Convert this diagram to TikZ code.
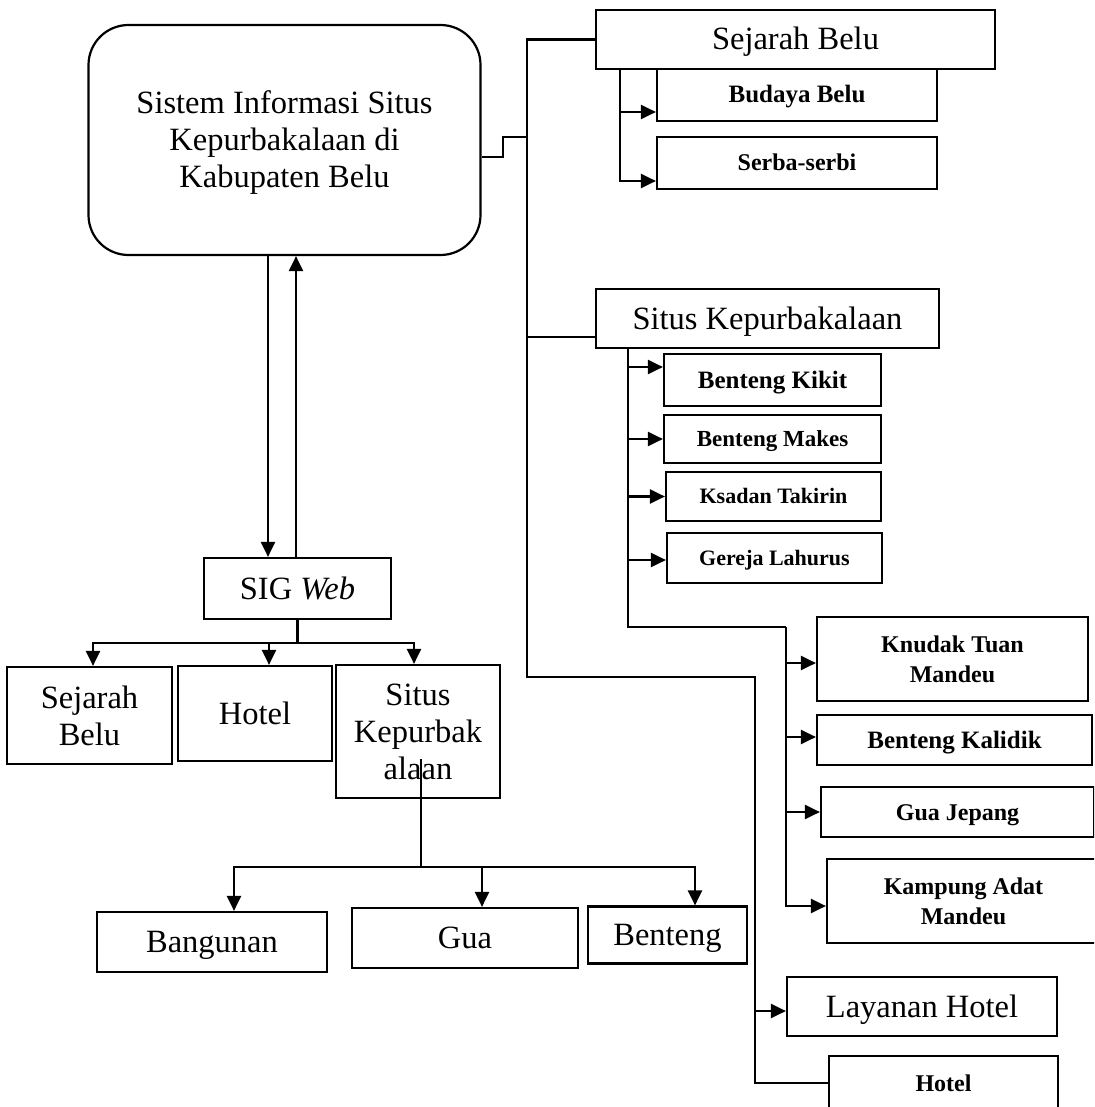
\documentclass[tikz,border=0pt]{standalone}
\usepackage{fontspec}
\setmainfont{Liberation Serif}
\usetikzlibrary{arrows.meta}
\tikzset{
  line/.style={line width=2.2pt},
  arr/.style={line, -{Triangle[length=15pt,width=14pt]}},
  box/.style={draw, rectangle, line width=2.2pt, inner sep=0pt, align=center},
  one/.style={text height=#1, text depth=0pt},
  big/.style={font=\fontsize{32.5}{37}\selectfont},
  sm/.style={font=\fontsize{#1}{30}\selectfont\bfseries},
}
\begin{document}
\begin{tikzpicture}[x=1pt,y=-1pt]
\useasboundingbox (0,0) rectangle (1094,1107);
\clip (0,0) rectangle (1094,1107);
\fill[white] (0,0) rectangle (1094,1107);

% central system box
\node[box, big, rounded corners=40pt, text depth=1pt, minimum width=392pt, minimum height=230pt] (sis) at (284.5,140)
  {Sistem Informasi Situs\\Kepurbakalaan di\\Kabupaten Belu};

% right-hand menu
\node[box,big,one=21pt, minimum width=399pt, minimum height=59pt] (sjr) at (795.5,39.5) {Sejarah Belu};
\node[box,sm=25,one=16pt, minimum width=280pt, minimum height=52pt] (bud) at (797,95) {Budaya Belu};
\node[box,sm=24,one=16pt, minimum width=280pt, minimum height=52pt] (ser) at (797,163) {Serba-serbi};
\node[box,big,one=21pt, minimum width=343pt, minimum height=59pt] (skp) at (767.5,318.5) {Situs Kepurbakalaan};
\node[box,sm=25,one=16pt, minimum width=217pt, minimum height=52pt] (kik) at (772.5,380) {Benteng Kikit};
\node[box,sm=23,one=15pt, minimum width=217pt, minimum height=48pt] (mak) at (772.5,439) {Benteng Makes};
\node[box,sm=22,one=14.5pt, minimum width=215pt, minimum height=49pt] (ksa) at (773.5,496.5) {Ksadan Takirin};
\node[box,sm=22,one=14.5pt, minimum width=215pt, minimum height=50pt] (ger) at (774.5,558) {Gereja Lahurus};
\node[box,sm=24, minimum width=271pt, minimum height=84pt] (knu) at (952.5,659) {Knudak Tuan\\Mandeu};
\node[box,sm=25,one=16pt, minimum width=275pt, minimum height=50pt] (kal) at (954.5,740) {Benteng Kalidik};
\node[box,sm=24,one=16pt, minimum width=273pt, minimum height=50pt] (gua) at (957.5,812) {Gua Jepang};
\node[box,sm=24, minimum width=273pt, minimum height=84pt] (kam) at (963.5,901) {Kampung Adat\\Mandeu};
\node[box,big,one=21pt, minimum width=270pt, minimum height=59pt] (lay) at (922,1006.5) {Layanan Hotel};
\node[box,sm=24,one=16pt, minimum width=229pt, minimum height=54pt] (hor) at (943.5,1083) {Hotel};

% left-hand tree
\node[box,big,one=21pt, minimum width=187pt, minimum height=61pt] (sig) at (297.5,588.5) {SIG \textit{Web}};
\node[box,big, minimum width=165pt, minimum height=97pt] (sjl) at (89.5,715.5) {Sejarah\\Belu};
\node[box,big,one=21pt, minimum width=154pt, minimum height=95pt] (htl) at (255,713.5) {Hotel};
\node[box,big, minimum width=164pt, minimum height=133pt] (sil) at (418,731.5) {Situs\\Kepurbak\\alaan};
\node[box,big,one=21pt, minimum width=230pt, minimum height=60pt] (ban) at (212,942) {Bangunan};
\node[box,big,one=21pt, minimum width=226pt, minimum height=60pt] (gu) at (465,938) {Gua};
\node[box,big,one=21pt, minimum width=159pt, minimum height=57pt] (ben) at (667.5,935) {Benteng};

% junction points
\coordinate (kj) at (503,157);
\coordinate (tj) at (527,137);
\coordinate (trtop) at (527,39.5);
\coordinate (trbend) at (527,677);
\coordinate (trbend2) at (755,677);
\coordinate (sbx) at (620,69);
\coordinate (skx) at (628,348);
\coordinate (skb2) at (786,627);
\coordinate (xd) at (268,0);
\coordinate (xu) at (296,0);
\coordinate (hb) at (297.5,643);
\coordinate (hb2) at (421,867);

% main trunk on the right
\draw[line] (sis.east |- kj) -- (kj) |- (tj);
\draw[line] (sjr.west) -- (trtop) -- (trbend) -- (trbend2) |- (hor.west);
\draw[line] ([yshift=-18.5pt]skp.west) -- ++(-69,0);
\draw[arr] (trbend2 |- 0,1011) -- ([yshift=-4.5pt]lay.west);

% Sejarah Belu branch
\draw[arr] (sbx) |- ([yshift=-17pt]bud.west);
\draw[arr] (sbx) |- ([yshift=-18pt]ser.west);

% Situs Kepurbakalaan branch
\draw[arr] (skx) |- ([yshift=13pt]kik.west);
\draw[arr] (skx) |- (mak.west);
\draw[arr] (skx) |- (ksa.west);
\draw[arr] (skx) |- ([yshift=-2pt]ger.west);
\draw[line] (skx) |- (skb2);
\draw[arr] (skb2) |- ([yshift=-4pt]knu.west);
\draw[arr] (skb2) |- ([yshift=3pt]kal.west);
\draw[arr] (skb2) |- (gua.west);
\draw[arr] (skb2) |- ([yshift=-5pt]kam.west);

% system <-> SIG Web
\draw[arr] (sis.south -| xd) -- (sig.north -| xd);
\draw[arr] (sig.north -| xu) -- (sis.south -| xu);

% SIG Web tree
\draw[line] (sig.south) -- (hb);
\draw[arr] (hb) -| ([xshift=3.5pt]sjl.north);
\draw[arr] (hb) -| ([xshift=14pt]htl.north);
\draw[arr] (hb) -| ([xshift=-4pt]sil.north);
\draw[line] ([yshift=40pt]sil.south -| hb2) -- (hb2);
\draw[arr] (hb2) -| ([xshift=22pt]ban.north);
\draw[arr] (hb2) -| ([xshift=17pt]gu.north);
\draw[arr] (hb2) -| ([xshift=27.5pt]ben.north);
\end{tikzpicture}
\end{document}
